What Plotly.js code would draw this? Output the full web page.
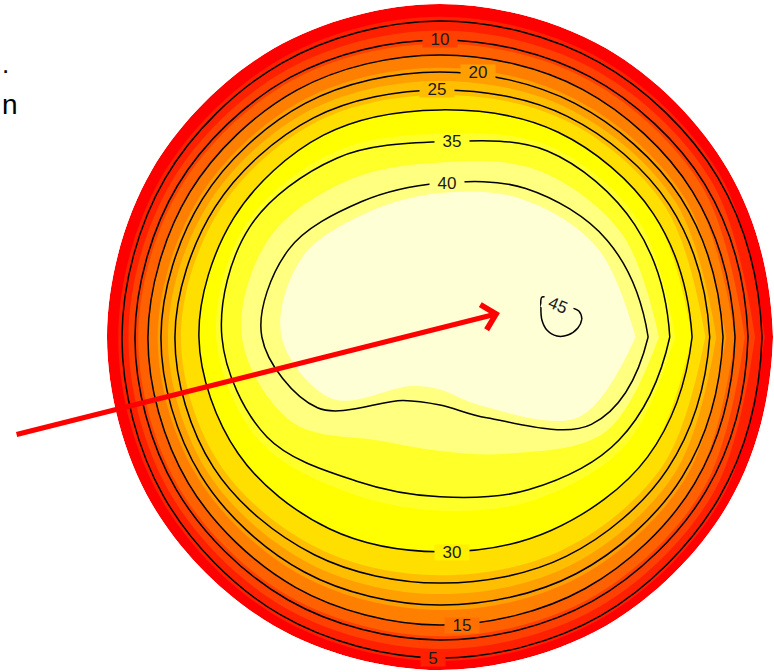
<!DOCTYPE html>
<html>
<head>
<meta charset="utf-8">
<script src="https://cdn.plot.ly/plotly-3.0.1.min.js"></script>
<style>html,body{margin:0;padding:0;background:#fff;}</style>
</head>
<body>
<div id="chart" style="width:774px;height:672px;"></div>
<script>
// Wafer thickness map (wafer radius = 100 mm).
// Each contour level is given by the radius at which it is crossed along
// 12 radial directions (degrees, counter-clockwise from +x).
const angles = [0, 30, 60, 90, 120, 150, 180, 210, 240, 270, 300, 330];
const WAFER_R = 100;
const r05 = [96.7, 96.2, 95.3, 94.9, 95.0, 95.3, 95.5, 95.8, 96.2, 96.4, 96.6, 96.7];
const r10 = [92.5, 91.8, 90.2, 89.2, 90.0, 91.0, 91.6, 91.5, 91.2, 91.0, 91.6, 92.3];
const r15 = [88.6, 87.5, 85.8, 84.7, 85.7, 86.8, 87.7, 87.4, 86.8, 86.5, 87.2, 88.2];
const r20 = [85.0, 83.5, 81.0, 79.6, 81.0, 82.5, 83.8, 83.0, 81.5, 80.5, 82.0, 84.0];
const r25 = [81.0, 79.5, 76.5, 74.2, 76.0, 78.0, 79.6, 78.5, 75.5, 73.9, 76.0, 79.0];
const r30 = [75.7, 74.0, 71.0, 68.2, 70.0, 71.5, 72.4, 70.0, 66.5, 64.5, 67.0, 72.0];
const r35 = [69.0, 67.5, 64.5, 58.6, 62.0, 66.0, 65.5, 60.0, 50.0, 48.0, 53.0, 62.0];
const r40 = [62.5, 58.0, 51.5, 46.2, 47.0, 52.5, 53.5, 42.5, 22.0, 20.4, 28.0, 52.5];
const r42 = [56.5, 52.0, 46.0, 41.5, 41.0, 45.0, 44.0, 34.0, 14.0, 13.0, 21.0, 45.5];
// small 45 loop around the thickest spot (x, y in mm) and the spot itself
const peakX = [42.6, 41.7, 39.0, 36.0, 33.0, 30.6, 30.3, 30.6, 32.1, 35.1, 38.4, 41.4];
const peakY = [5.4, 7.8, 9.0, 10.2, 11.4, 12.0, 8.7, 5.1, 2.1, 0.3, 0.6, 2.7];
const peakSpot = [36.0, 6.3];

const levels = [0, 5, 10, 15, 20, 25, 30, 35, 40, 42, 45, 46];

// heat palette, 12 equal bins over 0..45
const heatColors = ['#FF0000', '#FF2000', '#FF4000', '#FF6000', '#FF8000', '#FF9F00',
                    '#FFBF00', '#FFDF00', '#FFFF00', '#FFFF2A', '#FFFF80', '#FFFFD5'];
const Z_MAX = 45;
const LINE_STEP = 5;

// ---- carpet grid: rows follow the angle (b), columns follow the level (a) ----
const rings = [angles.map(() => WAFER_R), r05, r10, r15, r20, r25, r30, r35, r40, r42];
// carpet parameter: the level itself, except the rim which sits at 1 so that
// no black contour line is drawn along the wafer edge
const aParam = levels.map((v, i) => (i === 0 ? 1 : v));
const bVals = angles.concat([360]);
const X = [], Y = [], Z = [];
for (let j = 0; j < bVals.length; j++) {
  const k = j % angles.length;
  const th = angles[k] * Math.PI / 180;
  const rowX = [], rowY = [];
  rings.forEach(r => {
    rowX.push(r[k] * Math.cos(th));
    rowY.push(r[k] * Math.sin(th));
  });
  rowX.push(peakX[k], peakSpot[0]);
  rowY.push(peakY[k], peakSpot[1]);
  X.push(rowX); Y.push(rowY); Z.push(levels.slice());
}

const binW = Z_MAX / heatColors.length;
const nLev = heatColors.length - 1;
const colorscale = heatColors.map((c, k) => [k / nLev, c]);

const hiddenAxis = {
  showgrid: false, showline: false, startline: false, endline: false,
  showticklabels: 'none', minorgridcount: 0
};

const traces = [
  {
    type: 'contourcarpet', carpet: 'wafer',
    a: aParam, b: bVals, z: Z,
    autocontour: false,
    contours: { start: binW, end: binW * nLev, size: binW, coloring: 'fill', showlines: false },
    line: { width: 0 },
    colorscale: colorscale, showscale: false, hoverinfo: 'skip'
  },
  {
    type: 'carpet', carpet: 'wafer',
    a: aParam, b: bVals, x: X, y: Y,
    aaxis: Object.assign({}, hiddenAxis, {
      tickmode: 'linear', tick0: LINE_STEP, dtick: LINE_STEP,
      showgrid: true, gridcolor: '#000000', gridwidth: 1.5, smoothing: 0
    }),
    baxis: Object.assign({}, hiddenAxis, { smoothing: 1 }),
    hoverinfo: 'skip'
  }
];

// contour labels: [x, y, background, rotation, box width]
const labelPlace = {
  5:  [-2.1, -96.4, '#FF2000', 0, 24],
  10: [0.0, 89.2, '#FF4000', 0, 34],
  15: [6.6, -86.5, '#FF7000', 0, 34],
  20: [11.4, 79.3, '#FF9F00', 0, 34],
  25: [-0.9, 74.2, '#FFBF00', 0, 34],
  30: [3.6, -64.6, '#FFEF00', 0, 34],
  35: [3.6, 58.6, '#FFFF2A', 0, 34],
  40: [2.1, 46.2, '#FFFF80', 0, 34],
  45: [35.4, 9.6, '#FFFFD5', 23, 30]
};
const annotations = Object.keys(labelPlace).map(Number).map(L => {
  const p = labelPlace[L];
  return {
    x: p[0], y: p[1], xref: 'x', yref: 'y', text: String(L), showarrow: false,
    font: { family: 'Liberation Sans, Arial, sans-serif', size: 17, color: '#1a1a1a' },
    bgcolor: p[2], borderpad: 0, width: p[4], height: 15, textangle: p[3]
  };
});

// red pointer towards the thickest area
annotations.push({
  x: 18.0, y: 7.2, ax: -127.6, ay: -29.4, xref: 'x', yref: 'y', axref: 'x', ayref: 'y',
  text: '', showarrow: true, arrowhead: 4, arrowsize: 1, arrowwidth: 5,
  arrowcolor: '#FF0000', standoff: 0
});

// slide text at the left edge
annotations.push({
  xref: 'paper', yref: 'paper', x: 0, y: 1 - 64 / 672, xanchor: 'left', yanchor: 'middle',
  text: '.', showarrow: false,
  font: { family: 'Liberation Sans, Arial, sans-serif', size: 26, color: '#000' }
});
annotations.push({
  xref: 'paper', yref: 'paper', x: 0, y: 1 - 104 / 672, xanchor: 'left', yanchor: 'middle',
  text: 'n', showarrow: false,
  font: { family: 'Liberation Sans, Arial, sans-serif', size: 28, color: '#000' }
});

const layout = {
  width: 774, height: 672,
  margin: { l: 0, r: 0, t: 0, b: 0, pad: 0 },
  paper_bgcolor: '#ffffff', plot_bgcolor: '#ffffff',
  showlegend: false, hovermode: false,
  xaxis: { range: [-440 / 3.33, 334 / 3.33], visible: false, fixedrange: true },
  yaxis: { range: [-335 / 3.33, 337 / 3.33], visible: false, fixedrange: true },
  annotations: annotations
};

Plotly.newPlot('chart', traces, layout, { staticPlot: true, displayModeBar: false });
</script>
</body>
</html>
